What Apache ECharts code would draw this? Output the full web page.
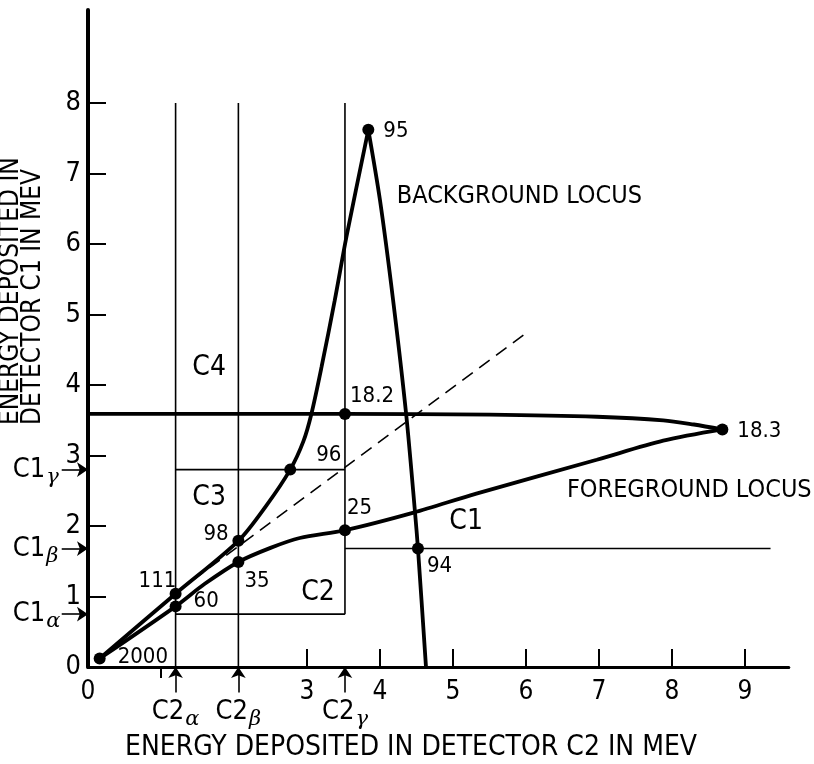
<!DOCTYPE html>
<html><head><meta charset="utf-8">
<script src="https://cdn.jsdelivr.net/npm/echarts@6/dist/echarts.min.js"></script>
<style>html,body{margin:0;padding:0;background:#fff}#c{width:814px;height:764px}</style>
</head><body><div id="c"></div>
<script>
// ---------------- data ----------------
const xLabelValues = [0, 3, 4, 5, 6, 7, 8, 9];
const xTickValues = [3, 4, 5, 6, 7, 8, 9];
const xMinorTickValues = [1];
const yLabelValues = [0, 1, 2, 3, 4, 5, 6, 7, 8];
const yTickValues = [1, 2, 3, 4, 5, 6, 7, 8];

const c2Cuts = [1.2, 2.06, 3.52];   // C2α, C2β, C2γ  (MeV in C2)
const c1Cuts = [0.75, 1.68, 2.8];   // C1α, C1β, C1γ  (MeV in C1)
const greek = ['α', 'β', 'γ'];
const cutTop = 8;
const c1bEnd = 9.35;

// foreground locus (lower branch out to 18.3, upper branch back to the C1 axis)
const fgLower = [[0.16, 0.12], [1.2, 0.86], [1.6, 1.18], [2.06, 1.49], [2.5, 1.69], [2.9, 1.83], [3.52, 1.94],
                 [4.46, 2.19], [5.32, 2.46], [6.97, 2.94], [7.88, 3.21], [8.69, 3.37]];
const fgUpper = [[8.69, 3.37], [8.3, 3.44], [7.88, 3.5], [6.97, 3.55], [5.5, 3.58], [3.52, 3.59], [0, 3.59]];
// background locus (rising branch to 95, falling branch to the C2 axis)
const bgUp = [[0.16, 0.12], [1.2, 1.04], [2.06, 1.79], [2.45, 2.3], [2.77, 2.8], [2.95, 3.2], [3.06, 3.59],
              [3.2, 4.26], [3.38, 5.2], [3.54, 6.1], [3.84, 7.62]];
const bgDown = [[3.84, 7.62], [4.0, 6.62], [4.18, 5.2], [4.36, 3.57], [4.48, 2.19], [4.52, 1.68], [4.63, 0]];
// dashed diagonal
const diagonal = [[1.2, 1.05], [6.03, 4.76]];

// labelled points
const pointNames = ['2000', '111', '60', '35', '98', '96', '25', '18.2', '95', '94', '18.3'];
const pointX = [0.16, 1.2, 1.2, 2.06, 2.06, 2.77, 3.52, 3.52, 3.84, 4.52, 8.69];
const pointY = [0.12, 1.04, 0.86, 1.49, 1.79, 2.8, 1.94, 3.59, 7.62, 1.68, 3.37];

// ---------------- layout / style (not data) ----------------
const FN = "'DejaVu Sans Condensed','Liberation Sans Narrow',sans-serif";
const FC = "'DejaVu Sans Condensed','Liberation Sans Narrow',sans-serif";
const pointLabelOffset = {
  '2000': [18, -1], '111': [-37, -12], '60': [18, -5], '35': [6, 19], '98': [-35, -7],
  '96': [26, -14], '25': [2, -22], '18.2': [5, -18], '95': [15, 1], '94': [9, 18], '18.3': [15, 2]
};
const arrowLen = 0.36;          // arrow length in axis units
const c1LabelX = -1.03;          // where the C1 threshold labels start
const c2LabelY = -0.64;          // where the C2 threshold labels sit
const regionLabels = [
  { text: 'C4', at: [1.66, 4.24] },
  { text: 'C3', at: [1.66, 2.4] },
  { text: 'C2', at: [3.15, 1.05] },
  { text: 'C1', at: [5.18, 2.06] }
];
const locusLabels = [
  { text: 'BACKGROUND LOCUS', at: [4.23, 6.68] },
  { text: 'FOREGROUND LOCUS', at: [6.56, 2.5] }
];

// ---------------- build ----------------
const BLACK = '#000';
const thin = { color: BLACK, width: 1.6 };
const heavy = { color: BLACK, width: 3.8 };

function lineSeries(data, style, smooth, z) {
  return { type: 'line', data: data, showSymbol: false, symbol: 'none', smooth: smooth || false,
           lineStyle: style, z: z || 2, silent: true, clip: false };
}

const cutSegments = [
  [[c2Cuts[0], 0], [c2Cuts[0], cutTop]],
  [[c2Cuts[1], 0], [c2Cuts[1], cutTop]],
  [[c2Cuts[2], c1Cuts[0]], [c2Cuts[2], cutTop]],
  [[c2Cuts[0], c1Cuts[0]], [c2Cuts[2], c1Cuts[0]]],
  [[c2Cuts[0], c1Cuts[2]], [c2Cuts[2], c1Cuts[2]]],
  [[c2Cuts[2], c1Cuts[1]], [c1bEnd, c1Cuts[1]]]
];

const arrowData = [];
c2Cuts.forEach(v => arrowData.push({ coords: [[v, -arrowLen], [v, 0]] }));
c1Cuts.forEach(v => arrowData.push({ coords: [[-arrowLen, v], [0, v]] }));

const richGreek = {
  m: { fontFamily: FN, fontSize: 27, color: BLACK },
  s: { fontFamily: 'DejaVu Serif, serif', fontStyle: 'italic', fontSize: 21, color: BLACK, padding: [15, 0, 0, 1] }
};

const annotData = [];
c1Cuts.forEach((v, i) => annotData.push({ value: [c1LabelX, v], label: { formatter: '{m|C1}{s|' + greek[i] + '}', align: 'left' } }));
c2Cuts.forEach((v, i) => annotData.push({ value: [v, c2LabelY], label: { formatter: '{m|C2}{s|' + greek[i] + '}', align: 'center' } }));
regionLabels.forEach(r => annotData.push({ value: r.at, label: { formatter: r.text, align: 'center', fontSize: 28 } }));
locusLabels.forEach(r => annotData.push({ value: r.at, label: { formatter: r.text, align: 'left', fontSize: 25 } }));

const pointData = pointNames.map((n, i) => ({
  name: n, value: [pointX[i], pointY[i]],
  label: { offset: pointLabelOffset[n] }
}));

const series = [];
cutSegments.forEach(s => series.push(lineSeries(s, thin, false, 1)));
series.push(lineSeries(diagonal, { color: BLACK, width: 1.6, type: [13, 8] }, false, 1));
series.push(lineSeries(fgLower, heavy, 0.3, 3));
series.push(lineSeries(fgUpper, heavy, 0.3, 3));
series.push(lineSeries(bgUp, heavy, 0.3, 3));
series.push(lineSeries(bgDown, heavy, 0.3, 3));
series.push({
  type: 'lines', coordinateSystem: 'cartesian2d', clip: false, silent: true, z: 4,
  symbol: ['none', 'arrow'], symbolSize: [9, 11],
  lineStyle: { color: BLACK, width: 1.6, opacity: 1, curveness: 0 },
  data: arrowData
});
series.push({
  type: 'scatter', data: pointData, symbol: 'circle', symbolSize: 12, clip: false, z: 5, silent: true,
  itemStyle: { color: BLACK, opacity: 1 },
  label: { show: true, position: 'inside', align: 'left', verticalAlign: 'middle', opacity: 1,
           formatter: p => p.name, fontFamily: FN, fontSize: 22, color: BLACK }
});
series.push({
  type: 'scatter', data: annotData, symbolSize: 0, clip: false, z: 5, silent: true,
  itemStyle: { color: BLACK, opacity: 1 },
  label: { show: true, position: 'inside', verticalAlign: 'middle', fontFamily: FN, fontSize: 27, opacity: 1,
           color: BLACK, rich: richGreek }
});

const chart = echarts.init(document.getElementById('c'), null, { renderer: 'canvas' });
chart.setOption({
  animation: false,
  backgroundColor: '#fff',
  grid: { left: 88, right: 25.2, top: 10, bottom: 97, containLabel: false, outerBoundsMode: 'none' },
  xAxis: [{
    type: 'value', min: 0, max: 9.6,
    axisLine: { show: true, onZero: false, lineStyle: { color: BLACK, width: 3 } },
    axisTick: { show: true, inside: true, length: 18, customValues: xTickValues, lineStyle: { color: BLACK, width: 2 } },
    axisLabel: { show: true, customValues: xLabelValues, margin: 12, fontFamily: FN, fontSize: 26, color: BLACK },
    splitLine: { show: false }
  }, {
    type: 'value', min: 0, max: 9.6, position: 'bottom',
    axisLine: { show: false },
    axisTick: { show: true, inside: false, length: 11, customValues: xMinorTickValues, lineStyle: { color: BLACK, width: 2 } },
    axisLabel: { show: false },
    splitLine: { show: false }
  }],
  yAxis: {
    type: 'value', min: 0, max: 9.32,
    axisLine: { show: true, onZero: false, lineStyle: { color: BLACK, width: 4 } },
    axisTick: { show: true, inside: true, length: 18, customValues: yTickValues, lineStyle: { color: BLACK, width: 2 } },
    axisLabel: { show: true, customValues: yLabelValues, margin: 7, fontFamily: FN, fontSize: 27, color: BLACK },
    splitLine: { show: false }
  },
  graphic: [
    { type: 'text', x: 125, y: 748, silent: true,
      style: { text: 'ENERGY DEPOSITED IN DETECTOR C2 IN MEV', fontFamily: FC, fontSize: 28, fill: BLACK,
               align: 'left', verticalAlign: 'middle' } },
    { type: 'text', x: 22, y: 425, rotation: Math.PI / 2, silent: true,
      style: { text: 'ENERGY DEPOSITED IN\nDETECTOR C1 IN MEV', fontFamily: FC, fontSize: 26, lineHeight: 22,
               fill: BLACK, align: 'left', verticalAlign: 'middle' } }
  ],
  series: series
});
</script></body></html>
